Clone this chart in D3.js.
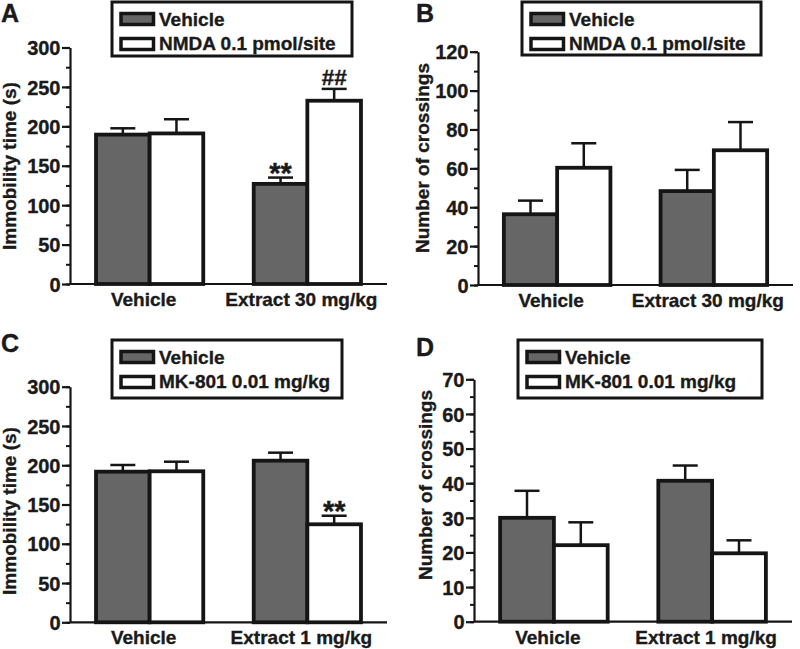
<!DOCTYPE html>
<html>
<head>
<meta charset="utf-8">
<script src="https://cdn.jsdelivr.net/npm/d3@7"></script>
<style>
  html, body { margin: 0; padding: 0; background: #fff; }
  svg { display: block; }
  text { font-family: "Liberation Sans", Arial, sans-serif; font-weight: bold; fill: #1a1a1a; stroke: #1a1a1a; stroke-width: 0.35px; }
</style>
</head>
<body>
<svg id="chart" width="800" height="649"></svg>
<script>
// ---------------- DATA ----------------
const groupsAB = ["Vehicle", "Extract 30 mg/kg"];
const groupsCD = ["Vehicle", "Extract 1 mg/kg"];
const seriesAB = ["Vehicle", "NMDA 0.1 pmol/site"];
const seriesCD = ["Vehicle", "MK-801 0.01 mg/kg"];

const immobilityA_vehicle = [189.5, 127];
const immobilityA_vehicleSEM = [8, 8];
const immobilityA_nmda = [191, 232.5];
const immobilityA_nmdaSEM = [18, 15];

const crossingsB_vehicle = [36.4, 48.3];
const crossingsB_vehicleSEM = [7, 10.9];
const crossingsB_nmda = [60.3, 69.3];
const crossingsB_nmdaSEM = [12.6, 14.5];

const immobilityC_vehicle = [191.8, 205.8];
const immobilityC_vehicleSEM = [8.5, 10.2];
const immobilityC_mk = [192.3, 124.8];
const immobilityC_mkSEM = [12.2, 10.9];

const crossingsD_vehicle = [30.0, 40.7];
const crossingsD_vehicleSEM = [7.8, 4.4];
const crossingsD_mk = [22.1, 19.75];
const crossingsD_mkSEM = [6.6, 3.75];

const ticksImmobility = [0, 50, 100, 150, 200, 250, 300];
const ticksCrossingsB = [0, 20, 40, 60, 80, 100, 120];
const ticksCrossingsD = [0, 10, 20, 30, 40, 50, 60, 70];

const labelImmobility = "Immobility time (s)";
const labelCrossings = "Number of crossings";

// annotations: [groupIndex, seriesIndex, text]
const annotationsA = [[1, 0, "**"], [1, 1, "##"]];
const annotationsC = [[1, 1, "**"]];

// ---------------- DRAW ----------------
const svg = d3.select("#chart");
const STROKE = "#151515";
const GRAY = "#666666";
const fills = [GRAY, "#ffffff"];

function panel(cfg) {
  const g = svg.append("g");
  const y = d3.scaleLinear().domain([0, cfg.ymax]).range([cfg.bottom, cfg.top]);
  const x0 = d3.scaleBand().domain(cfg.groups).range([cfg.left, cfg.right])
    .paddingInner(0.32).paddingOuter(0.165);
  const x1 = d3.scaleBand().domain([0, 1]).range([0, x0.bandwidth()]).padding(0);

  const rows = [];
  cfg.groups.forEach((grp, gi) => {
    cfg.values.forEach((vals, si) => {
      rows.push({ grp, gi, si, v: vals[gi], e: cfg.sems[si][gi] });
    });
  });

  // error bars
  const eg = g.append("g");
  rows.forEach(r => {
    const cx = x0(r.grp) + x1(r.si) + x1.bandwidth() / 2;
    eg.append("line").attr("x1", cx).attr("x2", cx)
      .attr("y1", y(r.v)).attr("y2", y(r.v + r.e))
      .attr("stroke", STROKE).attr("stroke-width", 2.5);
    eg.append("line").attr("x1", cx - 12.5).attr("x2", cx + 12.5)
      .attr("y1", y(r.v + r.e)).attr("y2", y(r.v + r.e))
      .attr("stroke", STROKE).attr("stroke-width", 2.5);
  });

  // bars
  g.append("g").selectAll("rect").data(rows).join("rect")
    .attr("x", d => x0(d.grp) + x1(d.si))
    .attr("width", x1.bandwidth())
    .attr("y", d => y(d.v))
    .attr("height", d => y(0) - y(d.v))
    .attr("fill", d => fills[d.si])
    .attr("stroke", STROKE).attr("stroke-width", 3.8);

  // annotations
  (cfg.annotations || []).forEach(([gi, si, txt]) => {
    const cx = x0(cfg.groups[gi]) + x1(si) + x1.bandwidth() / 2;
    const top = y(cfg.values[si][gi] + cfg.sems[si][gi]);
    const isStar = txt === "**";
    g.append("text").attr("x", cx).attr("y", isStar ? top + 5 : top - 3.5)
      .attr("text-anchor", "middle")
      .style("font-size", isStar ? "29px" : "22.5px")
      .text(txt);
  });

  // y axis: minor ticks
  const minorStep = (cfg.ticks[1] - cfg.ticks[0]) / 2;
  const minor = d3.range(0, cfg.ymax + 0.001, minorStep);
  const ayMinor = g.append("g").attr("transform", `translate(${cfg.left},0)`)
    .call(d3.axisLeft(y).tickValues(minor).tickSize(4).tickSizeOuter(0).tickFormat(""));
  ayMinor.select(".domain").remove();
  ayMinor.selectAll("line").attr("stroke", STROKE).attr("stroke-width", 2);

  const ay = g.append("g").attr("transform", `translate(${cfg.left},0)`)
    .call(d3.axisLeft(y).tickValues(cfg.ticks).tickSize(8).tickSizeOuter(0).tickPadding(1.5));
  ay.select(".domain").attr("stroke", STROKE).attr("stroke-width", 2.2);
  ay.selectAll(".tick line").attr("stroke", STROKE).attr("stroke-width", 2.2);
  ay.selectAll(".tick text").style("font-size", "20px")
    .style("font-family", "'Liberation Sans', Arial, sans-serif").attr("fill", "#1a1a1a")
    .attr("dy", "0.36em");

  // x axis
  const ax = g.append("g").attr("transform", `translate(0,${cfg.bottom})`)
    .call(d3.axisBottom(x0).tickSize(0).tickSizeOuter(0));
  ax.select(".domain").attr("d", `M${cfg.left},0H${cfg.right}`)
    .attr("stroke", STROKE).attr("stroke-width", 2.2);
  ax.selectAll(".tick text").style("font-size", "19px")
    .style("font-family", "'Liberation Sans', Arial, sans-serif").attr("fill", "#1a1a1a")
    .attr("y", 22).attr("dy", 0).attr("dx", -6);

  // y label
  g.append("text")
    .attr("transform", `translate(${cfg.ylabelX},${cfg.ylabelY}) rotate(-90)`)
    .attr("text-anchor", "middle").style("font-size", "19px")
    .text(cfg.ylabel);

  // panel letter
  g.append("text").attr("x", cfg.letterX).attr("y", cfg.letterY)
    .style("font-size", "25px").text(cfg.letter);

  // legend
  const L = cfg.legend;
  const lg = g.append("g").attr("transform", `translate(${L.x},${L.y})`);
  lg.append("rect").attr("x", 0).attr("y", 0).attr("width", L.w).attr("height", L.h)
    .attr("fill", "#fff").attr("stroke", STROKE).attr("stroke-width", 3);
  cfg.series.forEach((s, i) => {
    lg.append("rect").attr("x", 9).attr("y", 11.5 + i * 25)
      .attr("width", 32.5).attr("height", 11)
      .attr("fill", fills[i]).attr("stroke", STROKE).attr("stroke-width", 3.5);
    lg.append("text").attr("x", 47).attr("y", 23.5 + i * 24)
      .style("font-size", "19px").text(s);
  });
}

panel({
  letter: "A", letterX: 1, letterY: 22,
  groups: groupsAB, series: seriesAB,
  values: [immobilityA_vehicle, immobilityA_nmda],
  sems: [immobilityA_vehicleSEM, immobilityA_nmdaSEM],
  ymax: 300, ticks: ticksImmobility, ylabel: labelImmobility,
  left: 70, right: 387, top: 47.5, bottom: 284,
  ylabelX: 16, ylabelY: 166,
  legend: { x: 112, y: 2, w: 240, h: 54 },
  annotations: annotationsA
});

panel({
  letter: "B", letterX: 416, letterY: 22,
  groups: groupsAB, series: seriesAB,
  values: [crossingsB_vehicle, crossingsB_nmda],
  sems: [crossingsB_vehicleSEM, crossingsB_nmdaSEM],
  ymax: 120, ticks: ticksCrossingsB, ylabel: labelCrossings,
  left: 478, right: 793, top: 51.7, bottom: 285,
  ylabelX: 429, ylabelY: 158,
  legend: { x: 522, y: 2, w: 239, h: 53 }
});

panel({
  letter: "C", letterX: 1, letterY: 352,
  groups: groupsCD, series: seriesCD,
  values: [immobilityC_vehicle, immobilityC_mk],
  sems: [immobilityC_vehicleSEM, immobilityC_mkSEM],
  ymax: 300, ticks: ticksImmobility, ylabel: labelImmobility,
  left: 70, right: 387, top: 386.7, bottom: 622.3,
  ylabelX: 16, ylabelY: 511,
  legend: { x: 112, y: 340, w: 230, h: 58 },
  annotations: annotationsC
});

panel({
  letter: "D", letterX: 416, letterY: 356,
  groups: groupsCD, series: seriesCD,
  values: [crossingsD_vehicle, crossingsD_mk],
  sems: [crossingsD_vehicleSEM, crossingsD_mkSEM],
  ymax: 70, ticks: ticksCrossingsD, ylabel: labelCrossings,
  left: 474, right: 792, top: 379.3, bottom: 621.7,
  ylabelX: 432, ylabelY: 485,
  legend: { x: 518, y: 340, w: 244, h: 58 }
});
</script>
</body>
</html>
